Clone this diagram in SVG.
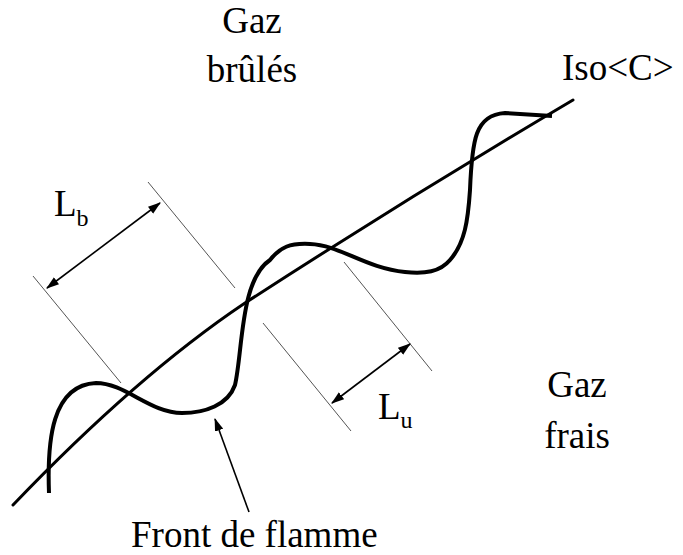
<svg xmlns="http://www.w3.org/2000/svg" width="683" height="555" viewBox="0 0 683 555">
<style>
text{font-family:"Liberation Serif","Times New Roman","DejaVu Serif",serif;fill:#000}
.lbl{font-size:37px}
.big{font-size:37px}
.sub{font-size:24px}
.iso{fill:none;stroke:#000;stroke-width:3;stroke-linecap:round}
.front{fill:none;stroke:#000;stroke-width:4;stroke-linejoin:round;stroke-linecap:butt}
.ext{fill:none;stroke:#555;stroke-width:1}
.dim{fill:none;stroke:#000;stroke-width:1.6}
</style>
<defs>
<marker id="ah" viewBox="0 0 12 8" refX="11" refY="4" markerWidth="13" markerHeight="9" markerUnits="userSpaceOnUse" orient="auto-start-reverse">
<path d="M0,0 L12,4 L0,8 Z" fill="#000"/>
</marker>
</defs>
<rect width="683" height="555" fill="#fff"/>
<g id="curves">
<path id="iso-line" class="iso" d="M13,505 C80,435 160,360 245,303 C350,235 480,155 573,100"/>
<path id="flame-front" class="front" d="M49,493 C47,440 52,385 96,383 C125,383 150,413 182,413 C205,413 228,405 235,385 C243,350 240,280 270,260 C280,247 290,243 310,244 C340,245 365,268 405,272 C425,274 440,272 450,260 C465,243 468,220 470,190 C472,140 475,115 505,113 L552,116"/>
</g>
<g id="connectors">
<line class="ext" x1="33" y1="276" x2="121" y2="383"/>
<line class="ext" x1="148" y1="182" x2="235" y2="288"/>
<line class="ext" x1="263" y1="323" x2="351" y2="431"/>
<line class="ext" x1="344" y1="262" x2="432" y2="371"/>
<line class="dim" x1="47" y1="288" x2="160" y2="203" marker-start="url(#ah)" marker-end="url(#ah)"/>
<line class="dim" x1="332" y1="403" x2="410" y2="344" marker-start="url(#ah)" marker-end="url(#ah)"/>
<line class="dim" x1="249" y1="512" x2="215" y2="419" marker-end="url(#ah)"/>
</g>
<g id="gaz-brules">
<text class="lbl" x="252" y="33" text-anchor="middle">Gaz</text>
<text class="lbl" x="252" y="82" text-anchor="middle">brûlés</text>
</g>
<g id="iso-label">
<text class="lbl" x="562" y="80">Iso&lt;C&gt;</text>
</g>
<g id="gaz-frais">
<text class="lbl" x="577" y="397" text-anchor="middle">Gaz</text>
<text class="lbl" x="577" y="448" text-anchor="middle">frais</text>
</g>
<g id="front-label">
<text class="lbl" x="131" y="547">Front de flamme</text>
</g>
<g id="Lb">
<text class="big" x="54" y="216">L<tspan class="sub" dy="10">b</tspan></text>
</g>
<g id="Lu">
<text class="big" x="378" y="419">L<tspan class="sub" dy="9">u</tspan></text>
</g>
</svg>
